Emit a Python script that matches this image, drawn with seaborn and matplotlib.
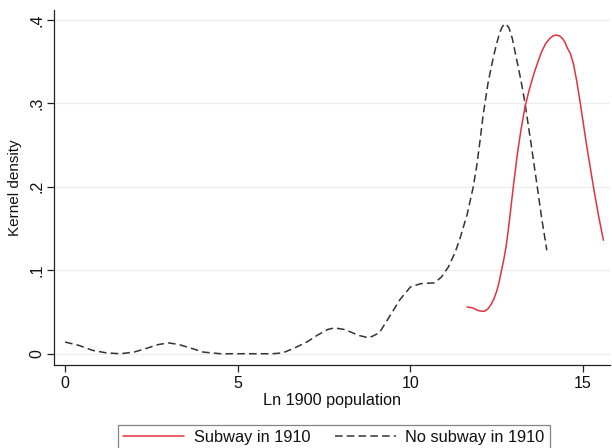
import matplotlib
matplotlib.use("Agg")
import matplotlib.pyplot as plt
import seaborn as sns
import pandas as pd

# ---- data ----
nosub_x = [0.0, 0.4, 0.8, 1.2, 1.6, 2.0, 2.4, 2.7, 3.0, 3.3, 3.7, 4.0, 4.5, 5.0, 5.5,
           6.0, 6.3, 6.6, 7.0, 7.3, 7.6, 7.8, 8.1, 8.5, 8.8, 9.1, 9.4, 9.7, 10.0, 10.3,
           10.7, 10.9, 11.1, 11.3, 11.45, 11.65, 11.82, 11.92, 12.0, 12.11, 12.25, 12.4,
           12.5, 12.58, 12.65, 12.71, 12.77, 12.85, 12.95, 13.08, 13.2, 13.32, 13.5,
           13.66, 13.8, 13.95]
nosub_y = [0.014, 0.010, 0.004, 0.001, 0.000, 0.002, 0.007, 0.011, 0.013, 0.011, 0.006,
           0.002, 0.000, 0.000, 0.000, 0.000, 0.001, 0.006, 0.014, 0.022, 0.029, 0.031,
           0.029, 0.022, 0.019, 0.025, 0.045, 0.065, 0.080, 0.084, 0.085, 0.092, 0.104,
           0.122, 0.140, 0.168, 0.200, 0.225, 0.250, 0.287, 0.325, 0.355, 0.372, 0.384,
           0.391, 0.395, 0.395, 0.391, 0.378, 0.352, 0.328, 0.300, 0.250, 0.204, 0.163,
           0.124]

sub_x = [11.64, 11.8, 11.95, 12.05, 12.15, 12.25, 12.35, 12.43, 12.5, 12.57, 12.64,
         12.7, 12.77, 12.84, 12.91, 12.98, 13.1, 13.2, 13.32, 13.42, 13.5, 13.58, 13.66,
         13.8, 13.92, 14.04, 14.13, 14.23, 14.32, 14.4, 14.48, 14.55, 14.63, 14.72, 14.82,
         14.92, 15.11, 15.3, 15.45, 15.59]
sub_y = [0.056, 0.055, 0.052, 0.051, 0.051, 0.054, 0.060, 0.067, 0.075, 0.086, 0.100,
         0.112, 0.128, 0.150, 0.175, 0.200, 0.240, 0.268, 0.296, 0.313, 0.325, 0.336,
         0.346, 0.362, 0.372, 0.378, 0.381, 0.382, 0.381, 0.378, 0.373, 0.366, 0.360,
         0.348, 0.326, 0.300, 0.248, 0.200, 0.165, 0.136]

series_labels = ["Subway in 1910", "No subway in 1910"]
x_ticks = [0, 5, 10, 15]
y_ticks = [0, 0.1, 0.2, 0.3, 0.4]
y_ticklabels = ["0", ".1", ".2", ".3", ".4"]

df = pd.concat([
    pd.DataFrame({"x": sub_x, "density": sub_y, "series": series_labels[0]}),
    pd.DataFrame({"x": nosub_x, "density": nosub_y, "series": series_labels[1]}),
], ignore_index=True)

sns.set_theme(style="white")
plt.rcParams["font.family"] = ["Liberation Sans", "DejaVu Sans"]

fig = plt.figure(figsize=(6.12, 4.48), dpi=100)
ax = fig.add_axes([54 / 612, 83 / 448, 556 / 612, 355 / 448])

red = "#e2323f"
dark = "#333333"

sns.lineplot(data=df[df.series == series_labels[1]], x="x", y="density", ax=ax,
             color=dark, linewidth=1.1, estimator=None, sort=True,
             label=series_labels[1])
ax.lines[-1].set_dashes((5, 2.7))
sns.lineplot(data=df[df.series == series_labels[0]], x="x", y="density", ax=ax,
             color=red, linewidth=1.1, estimator=None, sort=True,
             label=series_labels[0])
ax.lines[-1].set_solid_joinstyle("round")

ax.set_xlim(-0.32, 15.78)
ax.set_ylim(-0.0135, 0.412)
ax.set_xticks(x_ticks)
ax.set_xticklabels([str(t) for t in x_ticks])
ax.set_yticks(y_ticks)
ax.set_yticklabels(y_ticklabels, rotation=90, va="center")

ax.grid(axis="y", color="#ececec", linewidth=0.9)
ax.grid(axis="x", visible=False)
for s in ["top", "right"]:
    ax.spines[s].set_visible(False)
for s in ["left", "bottom"]:
    ax.spines[s].set_color("#222222")
    ax.spines[s].set_linewidth(0.9)

ax.tick_params(axis="both", which="major", direction="out", length=5, width=0.9,
               color="#222222", labelsize=11.5, labelcolor="#111111", pad=3,
               left=True, bottom=True)
ax.tick_params(axis="y", pad=2)
ax.set_xlabel("Ln 1900 population", fontsize=11.7, color="#111111", labelpad=1)
ax.set_ylabel("Kernel density", fontsize=11, color="#111111", labelpad=5)

handles, labels = ax.get_legend_handles_labels()
order = [labels.index(series_labels[0]), labels.index(series_labels[1])]
ax.get_legend().remove()
leg = fig.legend([handles[i] for i in order], [labels[i] for i in order],
                 loc="upper center", bbox_to_anchor=(334 / 612, 31 / 448),
                 ncol=2, fontsize=11.8, frameon=True, fancybox=False,
                 handlelength=3.7, handletextpad=0.6, columnspacing=1.5,
                 borderpad=0.3, edgecolor="#666666")
leg.get_frame().set_linewidth(0.9)
for t in leg.get_texts():
    t.set_color("#111111")

fig.savefig("out.png", dpi=100)
